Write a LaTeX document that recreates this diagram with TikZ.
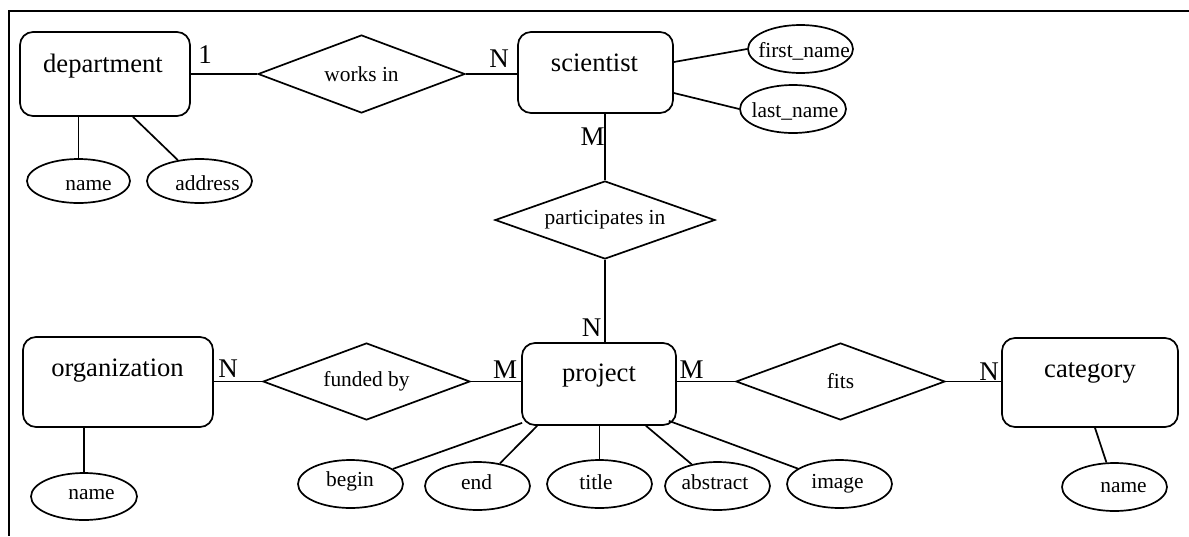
\documentclass[tikz,border=0pt]{standalone}
\usepackage{fontspec}
\setmainfont{Liberation Serif}
\usetikzlibrary{shapes.geometric}
\begin{document}
\begin{tikzpicture}[x=0.5pt,y=-0.5pt,line width=0.85pt,
  entity/.style={draw,rectangle,rounded corners=6.5pt,inner sep=0pt},
  relation/.style={draw,diamond,aspect=2.7,inner sep=0pt,font=\fontsize{10.7}{13}\selectfont},
  attr/.style={draw,ellipse,inner sep=0pt},
  etext/.style={inner sep=0pt,font=\fontsize{13.3}{16}\selectfont},
  atext/.style={inner sep=0pt,font=\fontsize{10.7}{13}\selectfont},
  card/.style={inner sep=0pt,font=\fontsize{13.5}{16}\selectfont}]
\useasboundingbox (0,0) rectangle (1189,536);

% page frame (top and left edges)
\draw (1189,11) -- (9,11) -- (9,536);

% entities
\node[entity,minimum width=85pt,minimum height=42pt] (dep) at (105,74) {};
\node[etext] (dept) at (103,66) {department};
\node[entity,minimum width=77.5pt,minimum height=40.5pt] (sci) at (595.5,72.5) {};
\node[etext] (scit) at (594.5,63) {scientist};
\node[entity,minimum width=95pt,minimum height=45pt] (org) at (118,382) {};
\node[etext] (orgt) at (117.5,371) {organization};
\node[entity,minimum width=77pt,minimum height=41pt] (proj) at (599,384) {};
\node[etext] (projt) at (599,375.5) {project};
\node[entity,minimum width=88pt,minimum height=44.5pt] (cat) at (1090,382.5) {};
\node[etext] (catt) at (1090,372.5) {category};

% relationships
\node[relation,aspect=2.65,minimum width=103.5pt,minimum height=39pt] (works) at (361.5,74) {works in};
\node[relation,aspect=2.82,minimum width=110pt,minimum height=39pt] (part) at (605,220) {participates in};
\node[relation,aspect=2.69,minimum width=103.5pt,minimum height=38.5pt] (funded) at (366.5,381.5) {funded by};
\node[relation,aspect=2.71,minimum width=104.5pt,minimum height=38.5pt] (fits) at (840.5,381.5) {fits};

% attributes
\node[attr,minimum width=51.5pt,minimum height=22pt] (dname) at (78.5,181) {};
\node[atext] (dnamet) at (88.5,185.5) {name};
\node[attr,minimum width=52.5pt,minimum height=22pt] (addr) at (199.5,181) {};
\node[atext] (addrt) at (207.5,183) {address};
\node[attr,minimum width=52.5pt,minimum height=24pt] (first) at (800.5,49) {};
\node[atext] (firstt) at (804,51) {first\_name};
\node[attr,minimum width=53pt,minimum height=24pt] (last) at (793,109) {};
\node[atext] (lastt) at (795,111) {last\_name};
\node[attr,minimum width=53pt,minimum height=23.5pt] (oname) at (84,496.5) {};
\node[atext] (onamet) at (91.5,495) {name};
\node[attr,minimum width=52.5pt,minimum height=24pt] (pbegin) at (350.5,484) {};
\node[atext] (pbegint) at (350,481) {begin};
\node[attr,minimum width=52.5pt,minimum height=24pt] (pend) at (477.5,486) {};
\node[atext] (pendt) at (476.5,482.5) {end};
\node[attr,minimum width=52.5pt,minimum height=24pt] (title) at (599.5,484) {};
\node[atext] (titlet) at (596,482.5) {title};
\node[attr,minimum width=52.5pt,minimum height=24pt] (abstract) at (717.5,486) {};
\node[atext] (abstractt) at (715,482.5) {abstract};
\node[attr,minimum width=52.5pt,minimum height=24pt] (image) at (839.5,484) {};
\node[atext] (imaget) at (837.5,484) {image};
\node[attr,minimum width=52.5pt,minimum height=24pt] (cname) at (1114.5,487) {};
\node[atext] (cnamet) at (1123.5,487.5) {name};

% relationship lines
\draw (dep.east) -- (works.west);
\draw (works.east) -- (works.east -| sci.west);
\draw (part.north) -- (part.north |- sci.south);
\draw (part.south) -- (part.south |- proj.north);
\draw (funded.west) -- (funded.west -| org.east);
\draw (funded.east) -- (funded.east -| proj.west);
\draw (fits.west) -- (fits.west -| proj.east);
\draw (fits.east) -- (fits.east -| cat.west);

% cardinalities
\node[card] (c1) at (205,55) {1};
\node[card] (c2) at (499,59) {N};
\node[card] (c3) at (592.5,136.5) {M};
\node[card] (c4) at (591.5,327.5) {N};
\node[card] (c5) at (228,369) {N};
\node[card] (c6) at (505,369.5) {M};
\node[card] (c7) at (691.5,369.5) {M};
\node[card] (c8) at (989,372) {N};

% attribute lines
\draw (dname.north) -- (dname.north |- dep.south);
\draw ([xshift=14pt]dep.south) -- (addr);
\draw ([yshift=5.25pt]sci.east) -- (first.west);
\draw ([yshift=-10.25pt]sci.east) -- (last.west);
\draw (oname.north) -- (oname.north |- org.south);
\draw ([xshift=2.5pt]cat.south) -- (cname);
\draw ([xshift=0.5pt,yshift=1.5pt]proj.south west) -- (pbegin);
\draw ([xshift=8pt]proj.south west) -- (pend);
\draw (title.north) -- (title.north |- proj.south);
\draw ([xshift=23.5pt]proj.south) -- (abstract);
\draw ([xshift=-4pt,yshift=2.5pt]proj.south east) -- (image);
\end{tikzpicture}
\end{document}
